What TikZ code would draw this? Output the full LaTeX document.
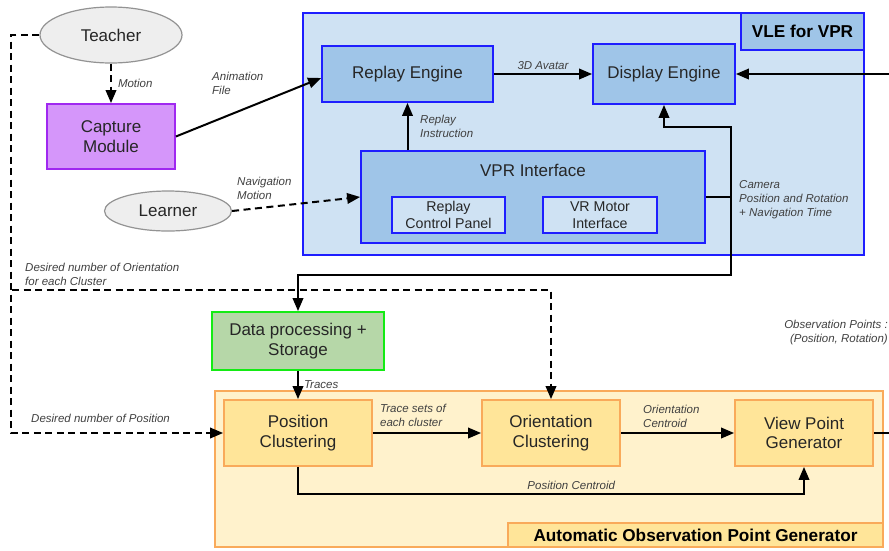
\documentclass[tikz,border=0pt]{standalone}
\usepackage{fontspec}
\setmainfont{Liberation Sans}
\usetikzlibrary{arrows.meta}
\usetikzlibrary{shapes.geometric}

\definecolor{vlefill}{RGB}{207,226,243}
\definecolor{vledark}{RGB}{159,197,232}
\definecolor{vleline}{RGB}{30,30,255}
\definecolor{aopfill}{RGB}{255,242,204}
\definecolor{aopbox}{RGB}{255,229,153}
\definecolor{aopline}{RGB}{249,170,90}
\definecolor{capfill}{RGB}{213,150,250}
\definecolor{capline}{RGB}{160,40,240}
\definecolor{datafill}{RGB}{182,215,168}
\definecolor{dataline}{RGB}{20,235,20}
\definecolor{actorfill}{RGB}{238,238,238}

\tikzset{
  big/.style={font=\fontsize{17}{19.5}\selectfont, text=black!85, align=center, inner sep=0pt},
  small/.style={font=\fontsize{14.2}{16.5}\selectfont, text=black!85, align=center, inner sep=0pt},
  lbl/.style={font=\itshape\fontsize{11.5}{14.3}\selectfont, text=black!75, align=left, inner sep=0pt},
  actor/.style={big, ellipse, draw=gray!85, fill=actorfill, line width=1.2pt},
  capbox/.style={big, draw=capline, fill=capfill, line width=1.8pt},
  databox/.style={big, draw=dataline, fill=datafill, line width=1.8pt},
  vlegroup/.style={draw=vleline, fill=vlefill, line width=1.8pt},
  vlebox/.style={big, draw=vleline, fill=vledark, line width=1.8pt},
  vlesub/.style={small, draw=vleline, fill=vlefill, line width=1.8pt},
  aopgroup/.style={draw=aopline, fill=aopfill, line width=1.8pt},
  aopbox/.style={big, draw=aopline, fill=aopbox, line width=1.8pt},
  tagbox/.style={big, font=\bfseries\fontsize{17.2}{19.5}\selectfont, text=black},
  line/.style={line width=2pt},
  flow/.style={line, -{Triangle[length=13pt,width=10.5pt]}},
  dashflow/.style={flow, dash pattern=on 7pt off 4.5pt}
}

\begin{document}
\begin{tikzpicture}[x=1pt, y=-1pt]
\useasboundingbox (0,0) rectangle (889,550);

\node[vlegroup, minimum width=561pt, minimum height=242pt] (vle) at (583.5,134) {};
\node[vlebox, tagbox, minimum width=123pt, minimum height=37pt, anchor=north east] (vletag) at (vle.north east) {VLE for VPR};
\node[aopgroup, minimum width=668pt, minimum height=156pt] (aop) at (549,469) {};
\node[aopbox, tagbox, minimum width=375pt, minimum height=24pt, anchor=south east] (aoptag) at (aop.south east) {Automatic Observation Point Generator};

\node[actor, minimum width=142pt, minimum height=56pt] (teacher) at (111,35) {Teacher};
\node[capbox, minimum width=128pt, minimum height=65pt] (capture) at (111,136.5) {Capture\\Module};
\node[actor, minimum width=127pt, minimum height=40pt] (learner) at (168,211) {Learner};

\node[vlebox, minimum width=171pt, minimum height=56pt] (replay) at (407.5,74) {Replay Engine};
\node[vlebox, minimum width=142pt, minimum height=60pt] (display) at (664,74) {Display Engine};
\node[vlebox, minimum width=344pt, minimum height=92pt, label={[big, anchor=north, yshift=-14pt]north:VPR Interface}] (vpr) at (533,197) {};
\node[vlesub, minimum width=113pt, minimum height=36pt] (panel) at (448.5,215) {Replay\\Control Panel};
\node[vlesub, minimum width=114pt, minimum height=36pt] (motor) at (600,215) {VR Motor\\Interface};

\node[databox, minimum width=172pt, minimum height=58pt] (data) at (298,341) {Data processing +\\Storage};
\node[aopbox, minimum width=148pt, minimum height=66pt] (posc) at (298,433) {Position\\Clustering};
\node[aopbox, minimum width=138pt, minimum height=66pt] (orient) at (551,433) {Orientation\\Clustering};
\node[aopbox, minimum width=138pt, minimum height=66pt] (view) at (804,433) {View Point\\Generator};

\coordinate (dispin) at (889,74);
\coordinate (camtop) at (731,127);
\coordinate (cambot) at (731,275);
\coordinate (lmid) at (12,290);
\coordinate (obsout) at (889,433);

\draw[dashflow] (teacher) -- node[lbl, right=6pt] {Motion} (capture);
\draw[flow] (capture.east) -- ([yshift=-4pt]replay.west);
\draw[dashflow] (learner.east) -- (vpr.west);
\draw[flow] (replay) -- node[lbl, above=3pt] {3D Avatar} (display);
\draw[flow] (vpr.north -| replay) -- (replay.south);
\draw[flow] (dispin) -- (display.east);
\draw[flow] (vpr.east) -- (vpr.east -| camtop) -- (camtop) -| (display.south);
\draw[flow] (vpr.east -| camtop) -- (cambot) -| (data.north);
\draw[dashflow] (teacher.west) -- ++(-28,0) |- (posc.west);
\draw[dashflow] (lmid) -| (orient.north);
\draw[flow] (data) -- node[lbl, right=5pt] {Traces} (posc);
\draw[flow] (posc) -- (orient);
\draw[flow] (orient) -- (view);
\draw[flow] (posc.south) -- ++(0,27) -| node[lbl, pos=0.27, above=3pt] {Position Centroid} (view.south);
\draw[line] (view.east) -- (obsout);

\node[lbl, anchor=north west] (animlbl) at (212,72) {Animation\\File};
\node[lbl, anchor=north west] (navlbl) at (237,177) {Navigation\\Motion};
\node[lbl, anchor=north west] (instrlbl) at (420,115) {Replay\\Instruction};
\node[lbl, anchor=north west] (camlbl) at (739,180) {Camera\\Position and Rotation\\+ Navigation Time};
\node[lbl, anchor=north west] (orilbl) at (25,263) {Desired number of Orientation\\for each Cluster};
\node[lbl, anchor=west] (poslbl) at (31,418) {Desired number of Position};
\node[lbl, anchor=north west] (setlbl) at (380,404) {Trace sets of\\each cluster};
\node[lbl, anchor=north west] (centlbl) at (643,405) {Orientation\\Centroid};
\node[lbl, anchor=north east, align=right] (obslbl) at (888,320) {Observation Points :\\(Position, Rotation)};
\end{tikzpicture}
\end{document}
